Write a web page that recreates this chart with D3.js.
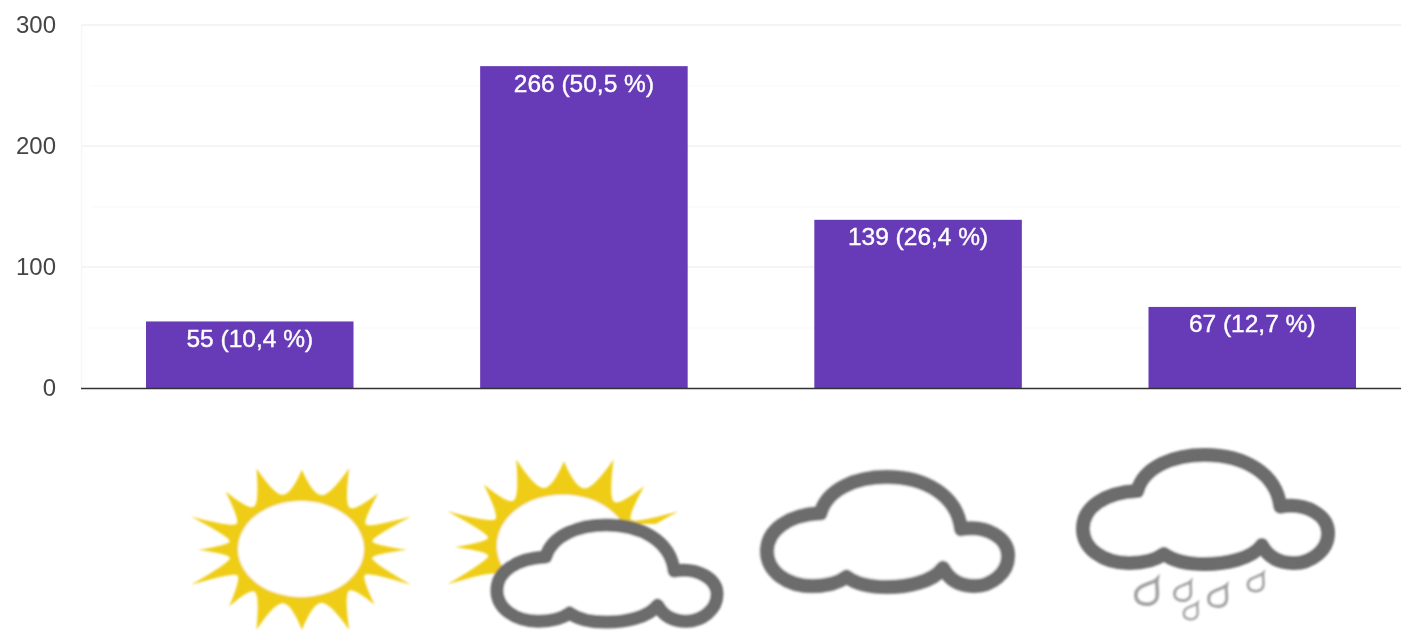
<!DOCTYPE html>
<html><head><meta charset="utf-8">
<script src="https://cdn.jsdelivr.net/npm/d3@7"></script>
<style>html,body{margin:0;background:#fff}svg{display:block}text{font-family:"Liberation Sans",Arial,sans-serif}</style>
</head><body><svg id="c" width="1401" height="632"></svg>
<script>
const categories = ["sun", "sun-cloud", "cloud", "rain"];
const counts = [55, 266, 139, 67];
const percents = ["10,4", "50,5", "26,4", "12,7"];
const majorTicks = [0, 100, 200, 300];
const minorTicks = [50, 150, 250];

// Decorative icon outlines (not data)
const cloudPath = "M205,250 C222,175 295,140 370,140 C465,140 545,195 555,298 C620,285 672,325 672,378 C672,432 630,470 588,470 C552,470 525,450 510,415 C485,458 420,473 370,473 C330,473 295,465 270,442 C245,465 215,470 185,470 C120,470 72,425 72,365 C72,300 125,255 205,250 Z";
const cloudBox = [72, 140, 672, 473];
const sunTips = [[235,115],[360,120],[490,115],[570,190],[660,260],[650,360],[660,465],[560,525],[490,600],[360,600],[235,600],[160,530],[55,465],[75,360],[55,260],[150,185]];
const clouds = [
  {cat:"sun-cloud", box:[497,525,717,622], w:13},
  {cat:"cloud", box:[767,477,1008,587], w:14},
  {cat:"rain", box:[1083,455,1328,564], w:14}
];
const drops = [[1147,593,1.25],[1183,592,.95],[1218,597,1.05],[1256,583,.9],[1191,612,.8]];

const W = 1401, H = 632;
const svg = d3.select("#c");
const defs = svg.append("defs");
defs.append("filter").attr("id","soft").attr("x","-5%").attr("y","-5%").attr("width","110%").attr("height","110%")
  .append("feGaussianBlur").attr("stdDeviation",1);
defs.append("filter").attr("id","softText").append("feGaussianBlur").attr("stdDeviation",0.45);
const clip = defs.append("clipPath").attr("id","sunClip");
clip.append("rect").attr("x",430).attr("y",440).attr("width",280).attr("height",84);
clip.append("rect").attr("x",430).attr("y",440).attr("width",80).attr("height",150);

const x = d3.scaleBand().domain(categories).range([82.5, 1419.5]).paddingInner(0.379).paddingOuter(0.19);
const y = d3.scaleLinear().domain([0, 300]).range([388, 25]);

// grid
const g = svg.append("g");
g.selectAll("line.minor").data(minorTicks).join("line").attr("class","minor")
  .attr("x1",90).attr("x2",W).attr("y1",d=>y(d)+.5).attr("y2",d=>y(d)+.5).attr("stroke","#f9f9f9");
g.selectAll("line.major").data(majorTicks.filter(d=>d>0)).join("line").attr("class","major")
  .attr("x1",81).attr("x2",W).attr("y1",d=>y(d)).attr("y2",d=>y(d)).attr("stroke","#f0f0f0").attr("stroke-width",1.5);
g.append("line").attr("x1",81.5).attr("x2",81.5).attr("y1",y(300)).attr("y2",y(0)).attr("stroke","#f7f7f7").attr("stroke-width",1.5);

// axis
const axis = svg.append("g").attr("transform","translate(57,0)")
  .call(d3.axisLeft(y).tickValues(majorTicks).tickSize(0).tickPadding(1));
axis.select(".domain").remove();
axis.selectAll("text").attr("font-size",24).attr("fill","#444").attr("font-family",'"Liberation Sans",Arial,sans-serif').attr("filter","url(#softText)");

// bars
svg.append("g").selectAll("rect").data(counts).join("rect")
  .attr("x",(d,i)=>x(categories[i])).attr("width",x.bandwidth())
  .attr("y",d=>y(d)).attr("height",d=>y(0)-y(d)).attr("fill","#673ab7");
svg.append("line").attr("x1",81).attr("x2",W).attr("y1",y(0)+.5).attr("y2",y(0)+.5).attr("stroke","#333").attr("stroke-width",1.5);

svg.append("g").selectAll("text").data(counts).join("text")
  .attr("x",(d,i)=>x(categories[i])+x.bandwidth()/2).attr("y",d=>y(d)+25.5)
  .attr("text-anchor","middle").attr("font-size",24.5).attr("fill","#fff").attr("stroke","#fff").attr("stroke-width",.4)
  .attr("filter","url(#softText)")
  .text((d,i)=>`${d} (${percents[i]} %)`);

// icons
const icons = svg.append("g").attr("filter","url(#soft)");
function drawSun(parent, cx, cy, kx, ky){
  const tipCx = 357.5, tipCy = 357.5, rx = 72, ry = 56;
  const at = p => [(p[0]-tipCx)/2.75*kx, (p[1]-tipCy)/3*ky];
  const ang = p => Math.atan2((p[1]-tipCy)/3, (p[0]-tipCx)/2.75);
  const ring = a => [Math.cos(a)*rx*kx, Math.sin(a)*ry*ky];
  let d = "";
  sunTips.forEach((t,i)=>{
    const n = sunTips[(i+1)%sunTips.length];
    let a0 = ang(t), a1 = ang(n);
    if (a1 < a0) a1 += 2*Math.PI;
    const T = at(t), N = at(n);
    const aMid = (a0+a1)/2;
    const v = ring(aMid), c1 = ring(a0*.45+aMid*.55), c2 = ring(a1*.45+aMid*.55);
    if (i===0) d += `M${T}`;
    d += `Q${c1} ${v}Q${c2} ${N}`;
  });
  parent.append("path").attr("transform",`translate(${cx},${cy})`)
    .attr("d",d+"Z").attr("fill","#efcd14");
  parent.append("ellipse").attr("cx",cx).attr("cy",cy).attr("rx",63*kx).attr("ry",48*ky).attr("fill","#fff");
}
drawSun(icons, 301, 549, 1, 1);
drawSun(icons.append("g").attr("clip-path","url(#sunClip)"), 563, 546, 1.05, 1.07);

clouds.forEach(c=>{
  const sx=(c.box[2]-c.box[0])/(cloudBox[2]-cloudBox[0]), sy=(c.box[3]-c.box[1])/(cloudBox[3]-cloudBox[1]);
  icons.append("path").attr("d",cloudPath)
    .attr("transform",`translate(${c.box[0]},${c.box[1]}) scale(${sx},${sy}) translate(${-cloudBox[0]},${-cloudBox[1]})`)
    .attr("fill","#fff").attr("stroke","#6c6c6c").attr("stroke-width",c.w).attr("vector-effect","non-scaling-stroke")
    .attr("stroke-linejoin","round");
});
icons.selectAll("path.drop").data(drops).join("path").attr("class","drop")
  .attr("transform",d=>`translate(${d[0]},${d[1]}) scale(${d[2]})`)
  .attr("d","M8,-11 C7,-6 9,-2 8,3 C7,9 0,10 -5,8 C-10,6 -10,-1 -6,-4 C-2,-7 5,-8 8,-11 Z")
  .attr("fill","#fff").attr("stroke","#a0a0a0").attr("stroke-width",3);
</script></body></html>
